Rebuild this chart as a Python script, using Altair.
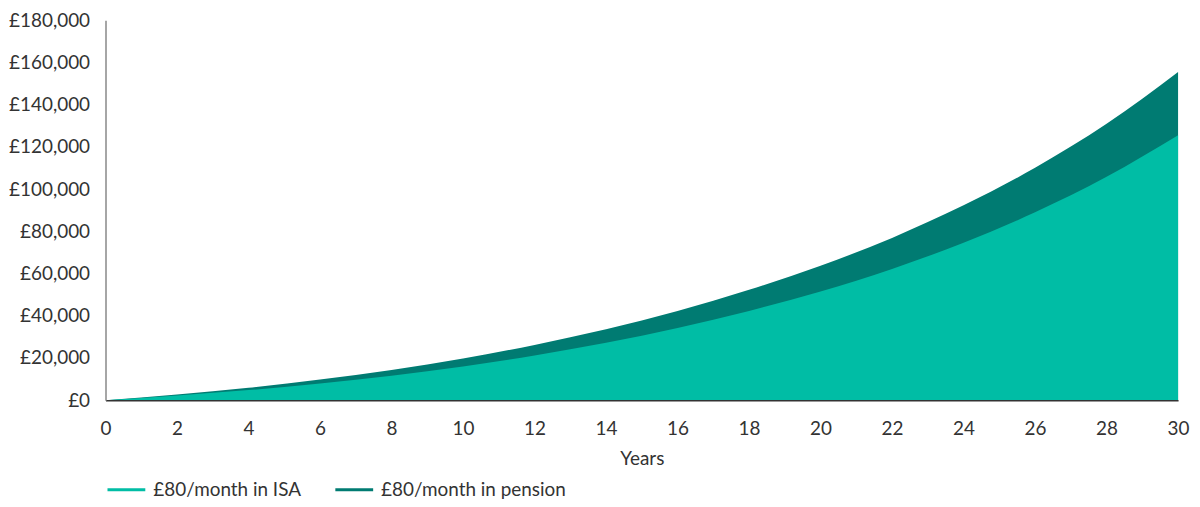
import pandas as pd
import altair as alt

years = [0, 2, 4, 6, 8, 10, 12, 14, 16, 18, 20, 22, 24, 26, 28, 30]
isa = [0, 2200, 4800, 7900, 11600, 16000, 21200, 27200, 34200, 42300,
       51500, 62200, 74600, 89000, 105800, 125500]
pension = [0, 2700, 5900, 9800, 14300, 19800, 26200, 33600, 42300, 52300,
           63700, 76900, 92300, 110100, 130900, 155500]

series_names = ["£80/month in ISA", "£80/month in pension"]
series_colors = ["#00bda5", "#007b72"]
y_ticks = list(range(0, 180001, 20000))
x_ticks = list(range(0, 31, 2))

FONT = "Lato"
TEXT = "#333333"

df_isa = pd.DataFrame({"year": years, "value": isa, "series": series_names[0]})
df_pension = pd.DataFrame({"year": years, "value": pension, "series": series_names[1]})

x_axis = alt.X("year:Q", title="Years",
               scale=alt.Scale(domain=[0, 30], nice=False, zero=True),
               axis=alt.Axis(values=x_ticks, ticks=False, tickSize=0, grid=False,
                             labelPadding=19, titlePadding=12, labelFontSize=19,
                             titleFontSize=19, titleFontWeight="normal",
                             domainColor="#333333", domainWidth=1.5, zindex=1,
                             labelFlush=False))
y_axis = alt.Y("value:Q", title=None,
               scale=alt.Scale(domain=[0, 180000], nice=False),
               axis=alt.Axis(values=y_ticks, ticks=False, tickSize=0, grid=False,
                             labelPadding=16, labelFontSize=19,
                             labelExpr='"£" + format(datum.value, ",")',
                             domainColor="#888888", domainWidth=1.5, zindex=1))
# thin bar as the legend swatch, like a short line
swatch = "M-1,-0.08H1V0.08H-1Z"
color = alt.Color("series:N", title=None,
                  scale=alt.Scale(domain=series_names, range=series_colors),
                  legend=alt.Legend(orient="none", legendX=2, legendY=453,
                                    direction="horizontal", symbolType=swatch,
                                    symbolSize=1444, symbolStrokeWidth=0,
                                    symbolOpacity=1, padding=0,
                                    labelFontSize=19, labelOffset=8, labelLimit=400,
                                    columnPadding=34, labelColor=TEXT,
                                    labelFont=FONT))

pension_area = alt.Chart(df_pension).mark_area(interpolate="monotone", opacity=1).encode(
    x=x_axis, y=y_axis, color=color
)
isa_area = alt.Chart(df_isa).mark_area(interpolate="monotone", opacity=1).encode(
    x=x_axis, y=y_axis, color=color
)

chart = alt.layer(pension_area, isa_area).properties(
    width=1078, height=382,
    autosize=alt.AutoSizeParams(type="none"),
    padding={"left": 98, "top": 11, "right": 14, "bottom": 98},
).configure_view(
    stroke=None
).configure_axis(
    labelFont=FONT, titleFont=FONT, labelColor=TEXT, titleColor=TEXT
)

chart.save("out.html", embed_options={"renderer": "svg", "actions": False})
